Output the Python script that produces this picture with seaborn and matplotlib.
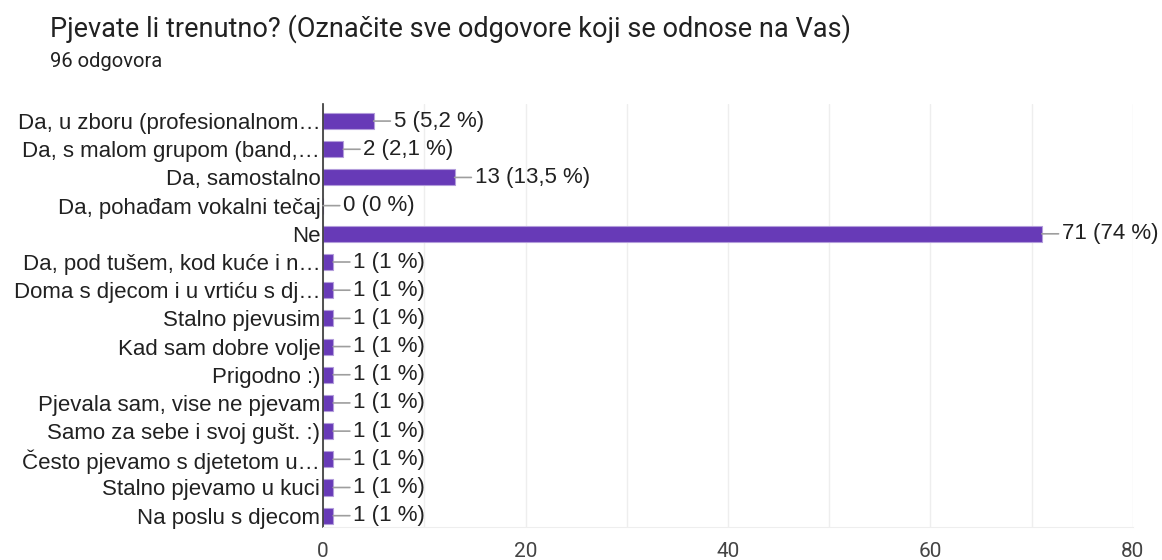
import matplotlib.pyplot as plt
import pandas as pd
import seaborn as sns

title = "Pjevate li trenutno? (Označite sve odgovore koji se odnose na Vas)"
subtitle = "96 odgovora"

labels = [
    "Da, u zboru (profesionalnom…",
    "Da, s malom grupom (band,…",
    "Da, samostalno",
    "Da, pohađam vokalni tečaj",
    "Ne",
    "Da, pod tušem, kod kuće i n…",
    "Doma s djecom i u vrtiću s dj…",
    "Stalno pjevusim",
    "Kad sam dobre volje",
    "Prigodno :)",
    "Pjevala sam, vise ne pjevam",
    "Samo za sebe i svoj gušt. :)",
    "Često pjevamo s djetetom u…",
    "Stalno pjevamo u kuci",
    "Na poslu s djecom",
]
counts = [5, 2, 13, 0, 71, 1, 1, 1, 1, 1, 1, 1, 1, 1, 1]
pct_labels = ["5,2 %", "2,1 %", "13,5 %", "0 %", "74 %"] + ["1 %"] * 10
x_ticks = [0, 20, 40, 60, 80]

df = pd.DataFrame({"label": labels, "count": counts})

sns.set_style("white")
plt.rcParams["font.family"] = ["Liberation Sans", "DejaVu Sans"]

fig = plt.figure(figsize=(11.62, 5.6), dpi=100)
ax = fig.add_axes([0.278, 0.059, 0.697, 0.755])

sns.barplot(data=df, x="count", y="label", orient="h", color="#673ab7",
            saturation=1, width=0.57, edgecolor="#b39ddb", linewidth=0.8, ax=ax)

for i, (c, p) in enumerate(zip(counts, pct_labels)):
    ax.annotate(f"{c} ({p})", xy=(c, i), xytext=(20, 0), textcoords="offset pixels",
                ha="left", va="center", fontsize=16, color="#212121",
                arrowprops=dict(arrowstyle="-", color="#9e9e9e", lw=1.2,
                                shrinkA=0, shrinkB=0))

ax.set_xlim(0, 80)
ax.set_ylim(14.4, -0.6)
ax.set_xticks(x_ticks, labels=[str(t) for t in x_ticks])
ax.set_xticks(range(10, 80, 20), minor=True)
ax.grid(axis="x", which="both", color="#eeeeee", linewidth=1)
ax.set_axisbelow(True)
ax.tick_params(axis="x", which="both", length=0, pad=11, labelsize=15, labelcolor="#444444")
ax.tick_params(axis="y", length=0, pad=2, labelsize=16, labelcolor="#212121")
for lab in ax.get_xticklabels():
    lab.set_fontfamily(["Roboto", "DejaVu Sans"])
ax.set_xlabel("")
ax.set_ylabel("")
for s in ["top", "right"]:
    ax.spines[s].set_visible(False)
ax.spines["bottom"].set_color("#eeeeee")
ax.spines["left"].set_color("#333333")
ax.spines["left"].set_linewidth(1.2)

fig.text(0.043, 0.948, title, fontsize=19.5, color="#212121", va="center",
         family=["Roboto", "DejaVu Sans"])
fig.text(0.043, 0.890, subtitle, fontsize=14.5, color="#212121", va="center",
         family=["Roboto", "DejaVu Sans"])

fig.savefig("out.png", dpi=100)
